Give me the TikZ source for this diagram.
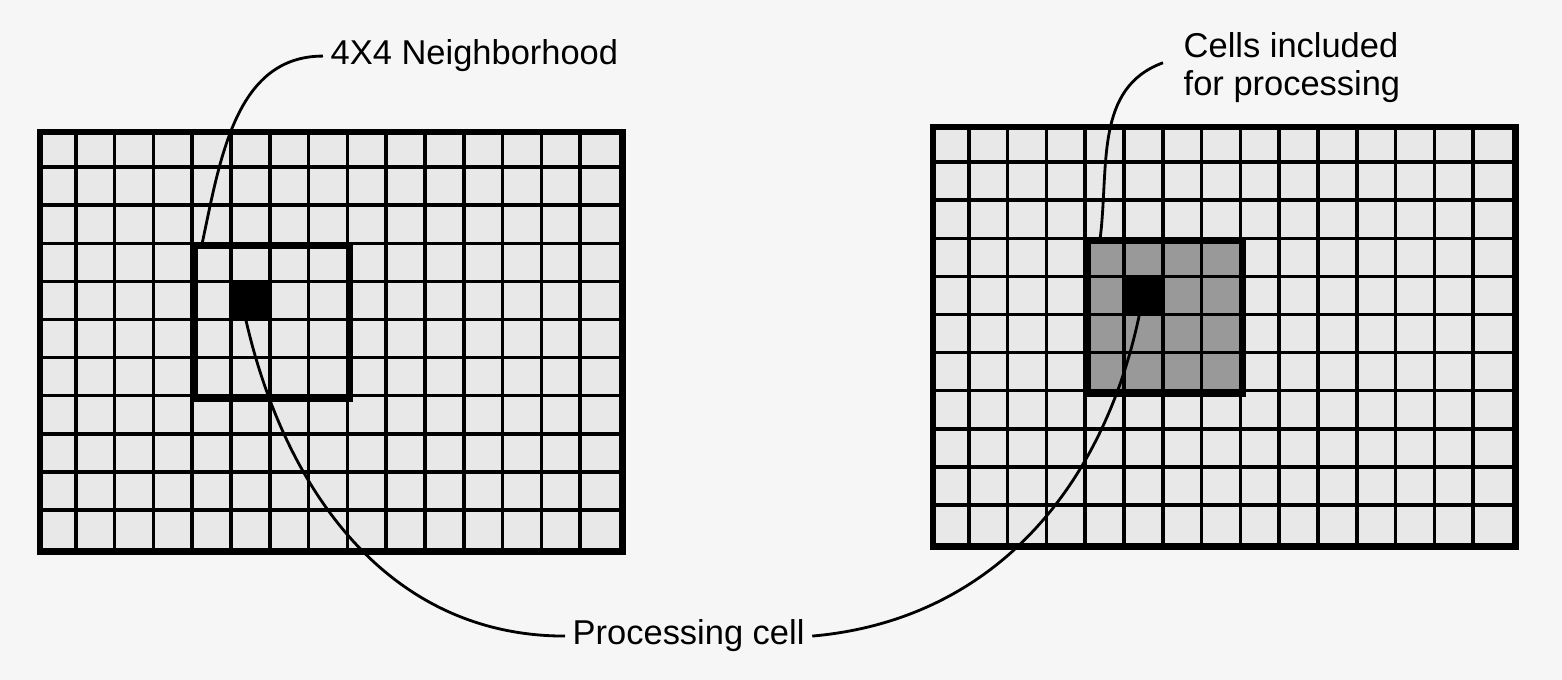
\documentclass[tikz,border=0pt]{standalone}
\usepackage{fontspec}
\setmainfont{Liberation Sans}
\usetikzlibrary{calc}
\definecolor{paper}{gray}{0.965}
\definecolor{cellbg}{gray}{0.91}
\definecolor{shade}{gray}{0.6}
\def\cw{38.8}
\def\ch{38.1}
\begin{document}
\begin{tikzpicture}[x=0.01cm, y=-0.01cm,
      lbl/.style={font=\fontsize{9.8}{10.8}\selectfont, inner sep=2pt},
      frame/.style={draw, line width=1.8pt, fill=cellbg, inner sep=0pt,
                    minimum width=5.82cm, minimum height=4.191cm, anchor=north west},
      gline/.style={line width=1pt},
      nbhd/.style={draw, line width=1.7pt, inner sep=0pt,
                   minimum width=1.552cm, minimum height=1.524cm, anchor=north west},
      proc/.style={fill=black, inner sep=0pt,
                   minimum width=0.388cm, minimum height=0.381cm, anchor=north west},
      leader/.style={line width=0.8pt}]
      \fill[paper] (0,0) rectangle (1562,680);
      \useasboundingbox (0,0) rectangle (1562,680);
      % Grids and 4x4 neighborhoods
      \node[frame] (gridL) at (37,129) {};
      \node[frame] (gridR) at (930,124) {};
      \node[nbhd] (nbL) at ($(gridL.north west)+(4*\cw,3*\ch)$) {};
      \node[nbhd,fill=shade] (nbR) at ($(gridR.north west)+(4*\cw,3*\ch)$) {};
      \foreach \g in {gridL,gridR}{
        \foreach \i in {1,...,14}
          \draw[gline] ($(\g.north west)+(\i*\cw,0)$) -- ($(\g.south west)+(\i*\cw,0)$);
        \foreach \j in {1,...,10}
          \draw[gline] ($(\g.north west)+(0,\j*\ch)$) -- ($(\g.north east)+(0,\j*\ch)$);
      }
      % Processing cells
      \node[proc] (cellL) at ($(gridL.north west)+(5*\cw,4*\ch)$) {};
      \node[proc] (cellR) at ($(gridR.north west)+(5*\cw,4*\ch)$) {};
      % Labels
      \node[lbl,anchor=base west] (lblN) at (323,65) {4X4 Neighborhood};
      \node[lbl,anchor=north west,align=left] (lblC) at (1176,25) {Cells included\\for processing};
      \node[lbl,anchor=base west] (lblP) at (565,645) {Processing cell};
      % Leaders
      \draw[leader] (lblN.west) to[out=180,in=78] ($(nbL.north west)+(10,0)$);
      \draw[leader] ($(lblC.west)+(-13,-5)$) to[out=200,in=83] ($(nbR.north west)+(15,0)$);
      \draw[leader] (lblP.west) to[out=180,in=283] ([xshift=-0.05cm]cellL.south);
      \draw[leader] (lblP.east) to[out=5,in=258] ([xshift=-0.05cm]cellR.south);
    \end{tikzpicture}
\end{document}
